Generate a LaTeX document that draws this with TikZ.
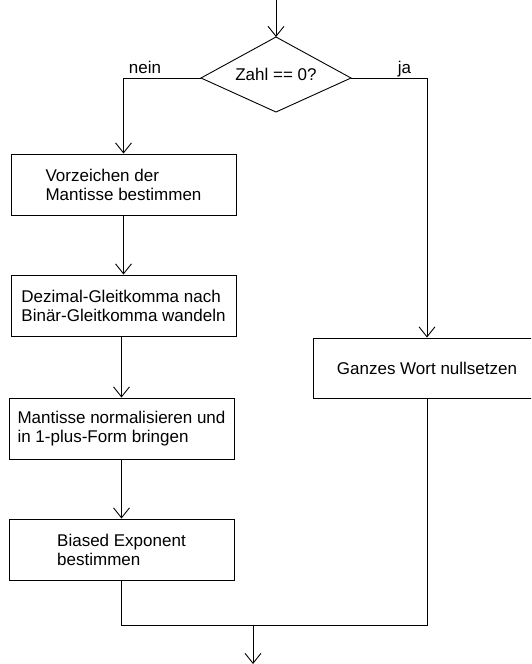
\documentclass[tikz,border=0pt]{standalone}
\usepackage{fontspec}
\setmainfont{Liberation Sans}
\usetikzlibrary{arrows.meta}
\begin{document}
\begin{tikzpicture}[x=1pt,y=-1pt,
  every node/.style={font=\fontsize{17}{19}\selectfont},
  line/.style={draw=black,line width=0.9pt},
  arr/.style={line,-{Straight Barb[length=10pt,width=16pt,line width=0.9pt]}},
  box/.style={draw=black,line width=0.9pt,rectangle,minimum width=225pt,minimum height=61pt,inner sep=0pt,align=left},
  rbox/.style={draw=black,line width=0.9pt,rectangle,minimum width=228pt,minimum height=60pt,inner sep=0pt,align=center}]
\useasboundingbox (0,0) rectangle (531,664);
\clip (0,0) rectangle (531,664);
\fill[white] (0,0) rectangle (531,664);

\coordinate (start) at (276,0);
\coordinate (dt) at (276,37);
\coordinate (dl) at (201,78);
\coordinate (db) at (276,112);
\coordinate (dr) at (351,78);
\draw[line,line join=miter] (dt) -- (dr) -- (db) -- (dl) -- cycle;
\node[anchor=base] (d) at (276,80) {Zahl == 0?};

\node[box] (b1) at (123.5,184.5) {Vorzeichen der\\Mantisse bestimmen};
\node[box] (b2) at (123.5,305.5) {Dezimal-Gleitkomma nach\\Binär-Gleitkomma wandeln};
\node[box] (b3) at (121.5,428.5) {Mantisse normalisieren und\\in 1-plus-Form bringen};
\node[box] (b4) at (121.5,549.5) {Biased Exponent\\bestimmen};
\node[rbox] (r) at (427,368) {Ganzes Wort nullsetzen};

\coordinate (nl) at (123.5,78);
\coordinate (jr) at (427,78);
\coordinate (ml) at (121.5,625);
\coordinate (mr) at (427,625);
\coordinate (mo) at (253,625);
\coordinate (end) at (253,664);

\node[anchor=base] (nein) at (145,73) {nein};
\node[anchor=base] (ja) at (404.5,73) {ja};

\draw[arr] (start) -- (dt);
\draw[arr] (dl) -- (nl) -- (b1.north);
\draw[arr] (dr) -- (jr) -- (r.north);
\draw[arr] (b1.south) -- (b2.north);
\draw[arr] (b2.south -| b3.north) -- (b3.north);
\draw[arr] (b3.south) -- (b4.north);
\draw[line] (b4.south) -- (ml) -- (mr) -- (r.south);
\draw[arr] (mo) -- (end);
\end{tikzpicture}
\end{document}
